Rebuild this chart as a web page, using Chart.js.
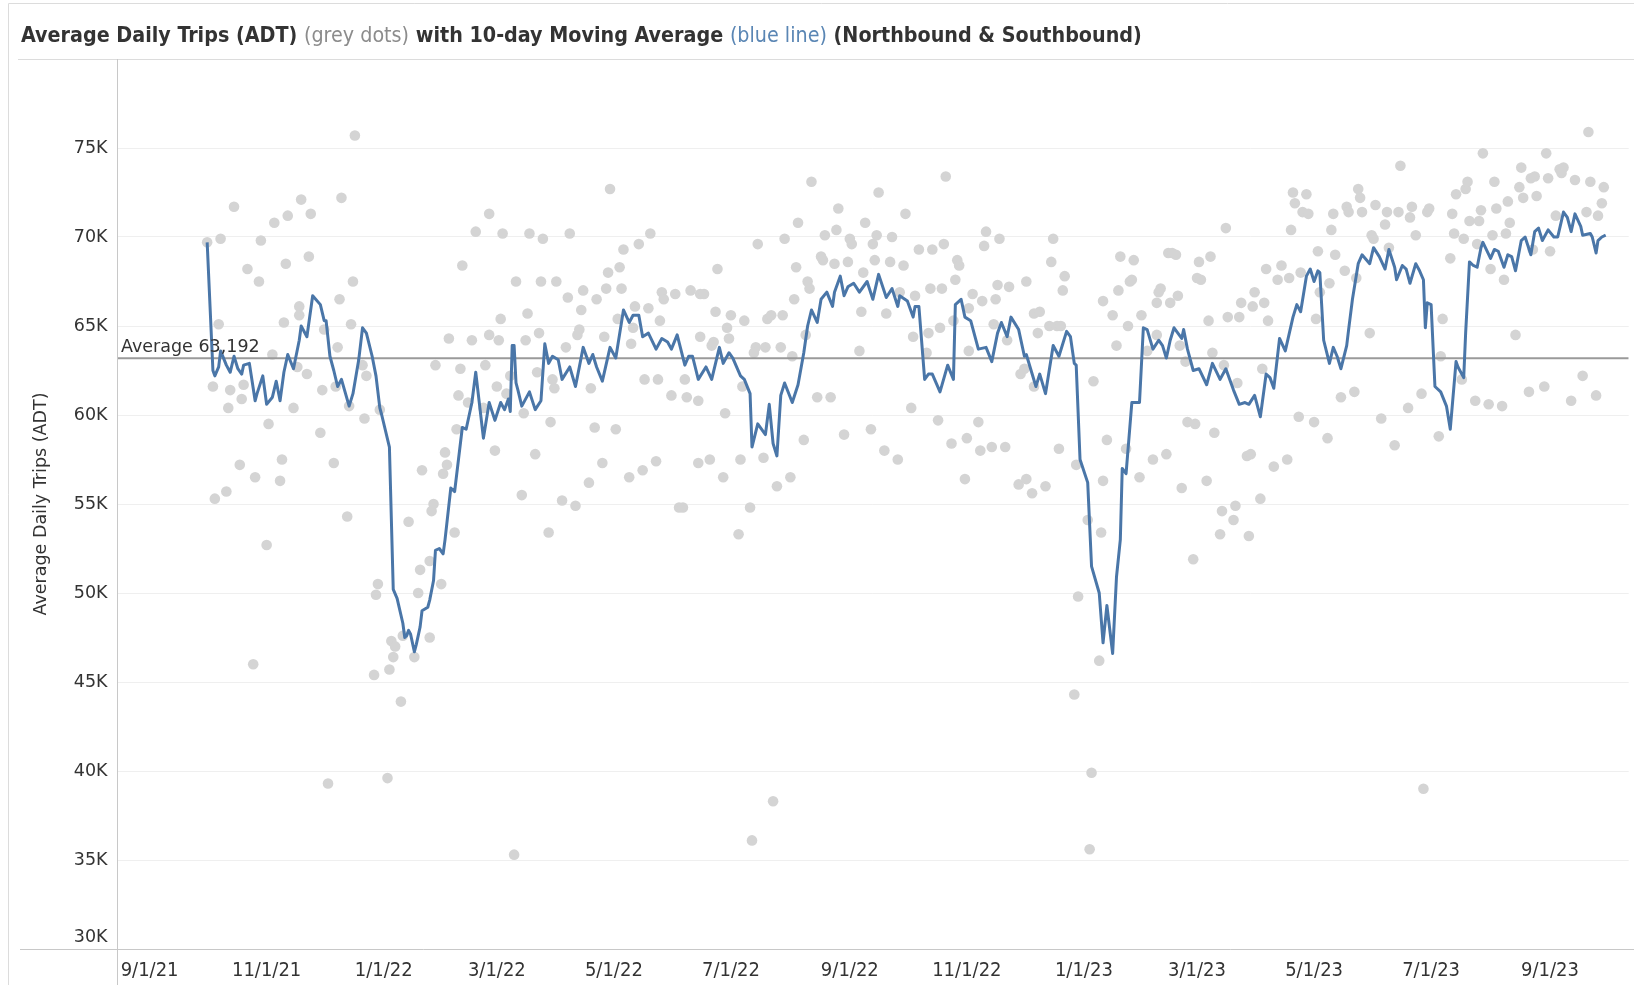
<!DOCTYPE html>
<html>
<head>
<meta charset="utf-8">
<script src="https://cdn.jsdelivr.net/npm/chart.js@4.4.1/dist/chart.umd.min.js"></script>
<style>
  html, body { margin: 0; padding: 0; background: #fff; }
  #wrap { position: relative; width: 1634px; height: 985px; }
  #chart { display: block; }
  #title {
    position: absolute; left: 21px; top: 24px;
    font: bold 21.3px 'DejaVu Sans Condensed', 'DejaVu Sans', sans-serif;
    line-height: 21px; color: #333; white-space: nowrap;
  }
  #title .grey { color: #8c8c8c; font-weight: normal; }
  #title .blue { color: #5a86b4; font-weight: normal; }
</style>
</head>
<body>
<div id="wrap">
  <canvas id="chart" width="1634" height="985"></canvas>
  <div id="title">Average Daily Trips (ADT) <span class="grey">(grey dots)</span> with 10-day Moving Average <span class="blue">(blue line)</span> (Northbound &amp; Southbound)</div>
</div>
<script>
// days are counted from 9/1/21, trips are in thousands
const tickLabels = ['9/1/21', '11/1/21', '1/1/22', '3/1/22', '5/1/22', '7/1/22', '9/1/22',
  '11/1/22', '1/1/23', '3/1/23', '5/1/23', '7/1/23', '9/1/23'];
const yTicks = [30, 35, 40, 45, 50, 55, 60, 65, 70, 75];
const averageADT = 63192;

// grey dots: daily ADT
const dotDay = [
  30, 37, 44, 33, 36, 42, 41, 48, 49, 51,
  57, 58, 47, 55, 34, 40, 62, 64, 65, 61,
  70, 71, 72, 69, 68, 75, 77, 78, 78, 79,
  84, 83, 82, 89, 90, 91, 96, 97, 98, 99,
  100, 107, 106, 105, 103, 104, 111, 112, 113, 120,
  135, 142, 148, 147, 153, 154, 155, 159, 149, 156,
  161, 162, 163, 160, 166, 168, 170, 175, 174, 177,
  177, 180, 182, 181, 183, 184, 186, 188, 191, 194,
  195, 197, 196, 198, 201, 203, 202, 204, 205, 208,
  209, 210, 211, 212, 215, 217, 218, 219, 222, 223,
  224, 225, 226, 229, 230, 232, 233, 236, 237, 238,
  239, 240, 243, 244, 245, 246, 247, 250, 251, 252,
  253, 255, 257, 258, 260, 261, 264, 265, 266, 267,
  268, 272, 274, 276, 54, 119, 118, 126, 128, 127,
  125, 117, 131, 138, 146, 140, 141, 146, 152, 132,
  93, 124, 190, 282, 287, 289, 296, 295, 303, 301,
  302, 310, 287, 293, 294, 279, 280, 286, 300, 309,
  316, 315, 321, 322, 324, 329, 330, 317, 331, 336,
  337, 338, 343, 344, 342, 335, 345, 348, 355, 352,
  350, 351, 357, 358, 359, 364, 365, 366, 371, 370,
  372, 373, 377, 379, 378, 380, 386, 387, 384, 393,
  394, 391, 399, 398, 401, 406, 405, 408, 407, 413,
  412, 414, 415, 420, 421, 422, 419, 427, 427, 429,
  434, 436, 435, 443, 441, 442, 448, 440, 447, 457,
  454, 456, 461, 464, 463, 461, 469, 473, 470, 471,
  475, 476, 477, 492, 497, 502, 504, 506, 505, 511,
  512, 510, 513, 517, 520, 525, 527, 526, 532, 531,
  533, 525, 286, 292, 299, 308, 320, 327, 334, 278,
  313, 307, 341, 362, 376, 383, 390, 397, 411, 418,
  426, 432, 425, 433, 439, 446, 453, 457, 460, 467,
  474, 483, 499, 497, 489, 496, 509, 516, 523, 530,
  484, 495, 482, 491, 490, 325, 314, 535, 536, 547,
  553, 546, 548, 561, 552, 537, 540, 554, 560, 567,
  562, 568, 569, 575, 576, 581, 582, 583, 580, 588,
  590, 594, 595, 596, 597, 603, 601, 604, 600, 609,
  610, 608, 615, 616, 617, 618, 623, 624, 625, 630,
  631, 632, 629, 636, 639, 637, 638, 645, 651, 644,
  646, 652, 658, 657, 660, 666, 667, 674, 673, 684,
  679, 680, 681, 686, 687, 678, 685, 688, 693, 694,
  695, 692, 699, 700, 701, 702, 708, 707, 709, 706,
  712, 714, 715, 716, 720, 722, 723, 721, 728, 729,
  730, 733, 735, 736, 737, 743, 747, 750, 751, 749,
  755, 754, 758, 757, 741, 727, 719, 691, 698, 705,
  672, 663, 656, 649, 642, 628, 621, 614, 607, 599,
  593, 586, 572, 574, 579, 566, 559, 565, 558, 573,
  551, 555, 541, 545, 538, 544, 664
];
const dotADT = [
  69.7, 69.9, 71.7, 61.6, 65.1, 61.4, 60.4, 60.9, 61.7, 68.2,
  67.5, 69.8, 57.2, 56.5, 55.3, 55.7, 59.5, 63.4, 70.8, 52.7,
  65.2, 68.5, 71.2, 57.5, 56.3, 60.4, 62.7, 66.1, 65.6, 72.1,
  71.3, 68.9, 62.3, 59.0, 61.4, 64.8, 57.3, 61.6, 63.8, 66.5,
  72.2, 75.7, 67.5, 65.1, 54.3, 60.5, 62.8, 59.8, 62.2, 60.3,
  54.0, 56.9, 55.0, 54.6, 56.7, 57.9, 57.2, 53.4, 62.8, 64.3,
  61.1, 62.6, 68.4, 59.2, 60.7, 64.2, 70.3, 62.8, 60.4, 64.5,
  71.3, 58.0, 64.2, 61.6, 65.4, 70.2, 61.2, 62.2, 67.5, 55.5,
  60.1, 65.7, 64.2, 70.2, 57.8, 64.6, 62.4, 67.5, 69.9, 53.4,
  59.6, 62.0, 61.5, 67.5, 55.2, 63.8, 66.6, 70.2, 54.9, 64.5,
  64.8, 65.9, 67.0, 56.2, 61.5, 59.3, 66.5, 57.3, 64.4, 67.1,
  68.0, 72.7, 59.2, 65.4, 68.3, 67.1, 69.3, 56.5, 64.0, 64.9,
  66.1, 69.6, 56.9, 62.0, 66.0, 70.2, 57.4, 62.0, 65.3, 66.9,
  66.5, 61.1, 66.8, 54.8, 46.0, 50.5, 49.9, 47.3, 47.0, 46.4,
  45.7, 45.4, 43.9, 46.4, 47.5, 50.0, 51.3, 51.8, 50.5, 47.6,
  39.3, 39.6, 35.3, 67.0, 66.8, 66.8, 68.2, 65.8, 65.6, 64.9,
  64.3, 65.3, 64.4, 63.9, 64.1, 62.0, 61.0, 60.8, 60.1, 61.6,
  63.8, 63.5, 63.8, 65.4, 65.6, 63.8, 65.6, 69.6, 69.9, 66.5,
  68.3, 70.8, 67.5, 67.1, 64.5, 63.3, 73.1, 61.0, 61.0, 70.1,
  68.9, 68.7, 68.5, 70.4, 71.6, 68.6, 69.9, 69.6, 65.8, 63.6,
  68.0, 70.8, 69.6, 70.1, 68.7, 72.5, 68.6, 70.0, 65.7, 68.4,
  71.3, 66.9, 66.7, 64.4, 69.3, 64.6, 63.5, 69.3, 67.1, 67.1,
  64.9, 69.6, 73.4, 67.6, 68.7, 68.4, 65.3, 66.0, 63.6, 66.8,
  66.4, 70.3, 69.5, 69.9, 66.5, 67.3, 67.2, 65.1, 64.2, 67.5,
  62.3, 62.6, 65.7, 65.8, 64.6, 61.6, 65.0, 65.0, 68.6, 69.9,
  65.0, 67.0, 67.8, 61.9, 66.4, 65.6, 63.9, 68.9, 67.0, 67.5,
  67.6, 65.0, 68.7, 65.6, 63.6, 66.3, 67.1, 66.9, 66.3, 69.1,
  69.1, 64.5, 57.3, 57.5, 56.5, 57.5, 57.6, 56.0, 56.5, 54.8,
  54.8, 53.3, 58.6, 58.9, 59.2, 58.0, 57.5, 60.4, 59.7, 58.4,
  58.7, 59.6, 56.4, 58.0, 58.2, 58.2, 56.1, 56.4, 55.6, 56.0,
  58.1, 57.2, 58.6, 56.3, 54.1, 53.4, 58.1, 56.5, 57.5, 57.8,
  49.8, 46.2, 44.3, 39.9, 35.6, 38.3, 36.1, 69.0, 66.7, 68.6,
  68.9, 67.7, 67.6, 70.5, 65.3, 63.9, 63.0, 63.5, 62.8, 61.8,
  65.5, 65.5, 66.3, 66.1, 66.9, 66.3, 68.2, 65.3, 62.6, 67.6,
  68.4, 67.7, 70.4, 72.5, 71.9, 72.4, 71.4, 71.3, 68.0, 69.2,
  66.9, 65.4, 67.4, 70.4, 71.3, 69.0, 68.1, 71.7, 71.4, 72.7,
  72.2, 71.4, 67.7, 64.6, 71.8, 70.1, 69.9, 71.4, 71.4, 70.7,
  69.4, 74.0, 71.7, 71.1, 70.1, 71.4, 71.6, 65.4, 63.3, 62.0,
  71.3, 70.2, 72.4, 72.7, 73.1, 68.8, 69.9, 70.9, 70.9, 71.5,
  74.7, 69.6, 68.2, 70.1, 73.1, 71.6, 72.0, 70.2, 70.8, 67.6,
  64.5, 72.8, 73.9, 72.2, 73.3, 73.4, 72.3, 69.3, 74.7, 73.3,
  69.2, 71.2, 73.8, 73.6, 73.9, 73.2, 62.2, 75.9, 73.1, 71.4,
  71.2, 61.1, 72.8, 71.9, 60.8, 61.6, 61.3, 60.8, 60.6, 60.5,
  58.8, 61.2, 60.4, 58.3, 59.8, 61.3, 61.0, 58.7, 59.6, 59.9,
  57.5, 57.1, 57.7, 57.8, 55.3, 54.9, 54.6, 54.1, 53.3, 53.2,
  56.3, 59.0, 59.6, 59.5, 55.9, 51.9, 39.0
];

// blue line: 10-day moving average
const lineDay = [
  30, 33, 34, 36, 37, 40, 42, 44, 46, 48,
  49, 52, 53, 55, 56, 59, 61, 64, 66, 68,
  70, 72, 75, 78, 79, 82, 85, 89, 91, 92,
  94, 96, 98, 100, 104, 106, 109, 111, 113, 116,
  118, 120, 121, 125, 127, 129, 132, 133, 134, 135,
  136, 138, 139, 141, 142, 145, 146, 148, 149, 151,
  153, 154, 157, 159, 161, 163, 165, 168, 170, 174,
  177, 180, 183, 185, 187, 188, 189, 190, 191, 192,
  194, 198, 201, 204, 206, 208, 210, 213, 215, 219,
  222, 226, 229, 231, 233, 236, 240, 243, 247, 250,
  252, 255, 257, 260, 264, 267, 270, 272, 275, 279,
  281, 283, 286, 290, 293, 297, 299, 302, 304, 308,
  310, 313, 314, 317, 321, 323, 325, 327, 329, 331,
  335, 338, 341, 343, 345, 348, 350, 353, 356, 357,
  360, 362, 364, 367, 370, 374, 377, 380, 384, 387,
  390, 391, 395, 398, 399, 401, 404, 406, 408, 412,
  416, 419, 420, 423, 425, 428, 432, 436, 439, 442,
  444, 447, 449, 453, 456, 457, 462, 464, 467, 471,
  474, 478, 480, 482, 483, 485, 489, 491, 495, 497,
  499, 502, 504, 506, 507, 509, 512, 516, 518, 520,
  523, 526, 528, 530, 532, 534, 538, 539, 541, 544,
  547, 551, 554, 558, 561, 565, 568, 571, 573, 576,
  579, 582, 584, 586, 589, 592, 596, 598, 600, 603,
  605, 607, 609, 610, 612, 615, 617, 619, 621, 624,
  625, 627, 630, 632, 636, 638, 641, 644, 646, 649,
  650, 653, 655, 657, 660, 662, 664, 665, 666, 668,
  670, 673, 676, 678, 681, 682, 685, 686, 688, 690,
  692, 694, 695, 699, 701, 703, 706, 708, 710, 712,
  715, 717, 720, 722, 724, 726, 729, 732, 734, 737,
  739, 741, 743, 746, 747, 751, 752, 754, 755, 757, 759
];
const lineADT = [
  69.7, 62.5, 62.2, 62.7, 63.6, 62.8, 62.4, 63.3, 62.6, 62.3,
  62.8, 62.9, 62.2, 60.8, 61.2, 62.2, 60.6, 61.0, 61.9, 60.8,
  62.4, 63.4, 62.6, 64.2, 65.0, 64.4, 66.7, 66.2, 65.3, 65.3,
  63.3, 62.5, 61.6, 62.0, 60.5, 61.2, 63.1, 64.9, 64.6, 63.3,
  62.2, 60.4, 60.0, 58.2, 50.2, 49.7, 48.3, 47.5, 47.6, 47.9,
  47.7, 46.7, 47.1, 48.1, 49.0, 49.2, 49.6, 50.7, 52.4, 52.5,
  52.2, 53.0, 55.9, 55.7, 57.5, 59.3, 59.2, 60.7, 62.4, 58.7,
  60.7, 59.7, 60.7, 60.3, 60.9, 60.2, 63.9, 63.9, 61.8, 61.4,
  60.5, 61.3, 60.3, 60.8, 64.0, 62.9, 63.3, 63.1, 62.0, 62.7,
  61.6, 63.8, 62.9, 63.4, 62.7, 61.9, 63.8, 63.2, 65.9, 65.2,
  65.6, 65.6, 64.4, 64.6, 63.7, 64.3, 64.1, 63.7, 64.5, 62.8,
  63.3, 63.3, 62.0, 62.7, 62.0, 63.8, 62.9, 63.5, 63.2, 62.2,
  62.0, 61.2, 58.2, 59.5, 58.9, 60.6, 58.4, 57.7, 61.1, 61.8,
  60.7, 61.7, 63.5, 65.0, 65.9, 65.2, 66.5, 66.9, 66.1, 66.9,
  67.8, 66.7, 67.2, 67.4, 66.9, 67.5, 66.5, 67.9, 66.6, 67.1,
  66.1, 66.7, 66.4, 65.5, 66.1, 66.1, 62.0, 62.3, 62.3, 61.3,
  62.8, 62.0, 66.2, 66.5, 65.5, 65.3, 63.7, 63.8, 63.0, 64.6,
  65.2, 64.4, 65.5, 64.8, 63.3, 63.4, 61.6, 62.3, 61.2, 63.9,
  63.3, 64.7, 64.4, 62.9, 62.8, 57.5, 56.2, 51.5, 50.0, 47.2,
  49.3, 46.6, 50.9, 53.0, 57.0, 56.7, 60.7, 60.7, 64.9, 64.8,
  63.7, 64.2, 63.9, 63.2, 64.2, 64.9, 64.3, 64.8, 63.7, 62.5,
  62.6, 61.7, 62.9, 62.0, 62.6, 61.4, 60.6, 60.7, 60.6, 61.1,
  59.9, 62.3, 62.1, 61.5, 64.3, 63.6, 65.5, 66.2, 65.8, 67.8,
  68.2, 67.5, 68.1, 68.0, 64.2, 62.9, 63.8, 63.3, 62.6, 63.9,
  64.8, 66.5, 68.5, 69.0, 68.5, 69.4, 68.9, 68.2, 69.3, 68.3,
  67.6, 68.4, 68.2, 67.4, 68.5, 68.1, 67.6, 64.9, 66.3, 66.2,
  61.6, 61.3, 60.5, 59.2, 63.0, 62.7, 62.1, 64.6, 68.6, 68.4,
  68.3, 69.4, 69.7, 68.8, 69.3, 69.2, 68.3, 69.0, 68.9, 68.1,
  69.8, 70.0, 69.0, 70.3, 70.5, 69.8, 70.4, 70.0, 70.0, 71.4,
  71.1, 70.3, 71.3, 70.6, 70.1, 70.2, 70.0, 69.1, 69.8, 70.0, 70.1
];

const sansFont = "'DejaVu Sans', sans-serif";
const condFont = "'DejaVu Sans Condensed', 'DejaVu Sans', sans-serif";

const baseDate = Date.UTC(2021, 8, 1);
function dayOf(label) {
  const [m, d, y] = label.split('/').map(Number);
  return (Date.UTC(2000 + y, m - 1, d) - baseDate) / 86400000;
}
const tickDays = tickLabels.map(dayOf);
const xMin = -17, xMax = 771;

function seg(ctx, x1, y1, x2, y2) {
  ctx.beginPath();
  ctx.moveTo(x1, y1);
  ctx.lineTo(x2, y2);
  ctx.stroke();
}

// frame lines, axis lines and the reference line label, tableau style
const extras = {
  id: 'extras',
  afterDraw(chart) {
    const {ctx, chartArea: a, scales: {y}} = chart;
    const W = chart.width, H = chart.height;
    ctx.save();
    ctx.lineWidth = 1;
    ctx.strokeStyle = '#dcdcdc';
    seg(ctx, 8.5, 3.5, W, 3.5);
    seg(ctx, 8.5, 3.5, 8.5, H);
    seg(ctx, 18, a.top + 0.5, W, a.top + 0.5);
    ctx.strokeStyle = '#c8c8c8';
    seg(ctx, a.left + 0.5, a.top, a.left + 0.5, H);
    seg(ctx, 20, a.bottom + 0.5, W, a.bottom + 0.5);

    ctx.fillStyle = '#333';
    ctx.font = '17.5px ' + sansFont;
    ctx.textAlign = 'left';
    ctx.textBaseline = 'alphabetic';
    ctx.fillText('Average ' + averageADT.toLocaleString('en-US'), a.left + 4, y.getPixelForValue(averageADT) - 6.5);
    // bottom tick label sits a bit above its gridline
    ctx.textAlign = 'right';
    ctx.textBaseline = 'middle';
    ctx.fillText(yTicks[0] + 'K', a.left - 9.5, y.getPixelForValue(yTicks[0] * 1000) - 12);
    ctx.restore();
  }
};

const dots = dotDay.map((d, i) => ({x: d, y: dotADT[i] * 1000}));
const avgLine = lineDay.map((d, i) => ({x: d, y: lineADT[i] * 1000}));

new Chart(document.getElementById('chart'), {
  type: 'scatter',
  data: {
    datasets: [
      {
        type: 'line',
        label: '10-day Moving Average',
        data: avgLine,
        borderColor: '#4a76a8',
        borderWidth: 3,
        borderJoinStyle: 'round',
        pointRadius: 0,
        tension: 0,
        order: 0
      },
      {
        type: 'line',
        label: 'Average',
        data: [{x: xMin, y: averageADT}, {x: xMax, y: averageADT}],
        borderColor: '#9a9a9a',
        borderWidth: 2,
        pointRadius: 0,
        order: 1
      },
      {
        type: 'scatter',
        label: 'ADT',
        data: dots,
        backgroundColor: '#d4d4d4',
        borderWidth: 0,
        pointRadius: 5.3,
        order: 2
      }
    ]
  },
  options: {
    responsive: false,
    animation: false,
    devicePixelRatio: 1,
    layout: {padding: {top: 59, left: 0, right: 0, bottom: 0}},
    plugins: {
      legend: {display: false},
      tooltip: {enabled: false}
    },
    scales: {
      x: {
        type: 'linear',
        min: xMin,
        max: xMax,
        afterBuildTicks: s => { s.ticks = tickDays.map(v => ({value: v})); },
        afterFit: s => { s.height = 36; },
        grid: {display: false, drawTicks: false},
        border: {display: false},
        ticks: {
          autoSkip: false,
          maxRotation: 0,
          padding: 10,
          color: '#333',
          font: {family: condFont, size: 20},
          callback: (v, i) => tickLabels[i]
        }
      },
      y: {
        min: 30000,
        max: 80000,
        afterBuildTicks: s => { s.ticks = yTicks.map(v => ({value: v * 1000})); },
        afterFit: s => { s.width = 117; },
        grid: {color: '#efefef', lineWidth: 1, drawTicks: false},
        border: {display: false},
        ticks: {
          padding: 9.5,
          color: '#333',
          font: {family: sansFont, size: 17.5},
          callback: v => v === yTicks[0] * 1000 ? '' : (v / 1000) + 'K'
        },
        title: {
          display: true,
          text: 'Average Daily Trips (ADT)',
          color: '#333',
          font: {family: sansFont, size: 17.5},
          padding: {top: 31, bottom: 0}
        }
      }
    }
  },
  plugins: [extras]
});
</script>
</body>
</html>
